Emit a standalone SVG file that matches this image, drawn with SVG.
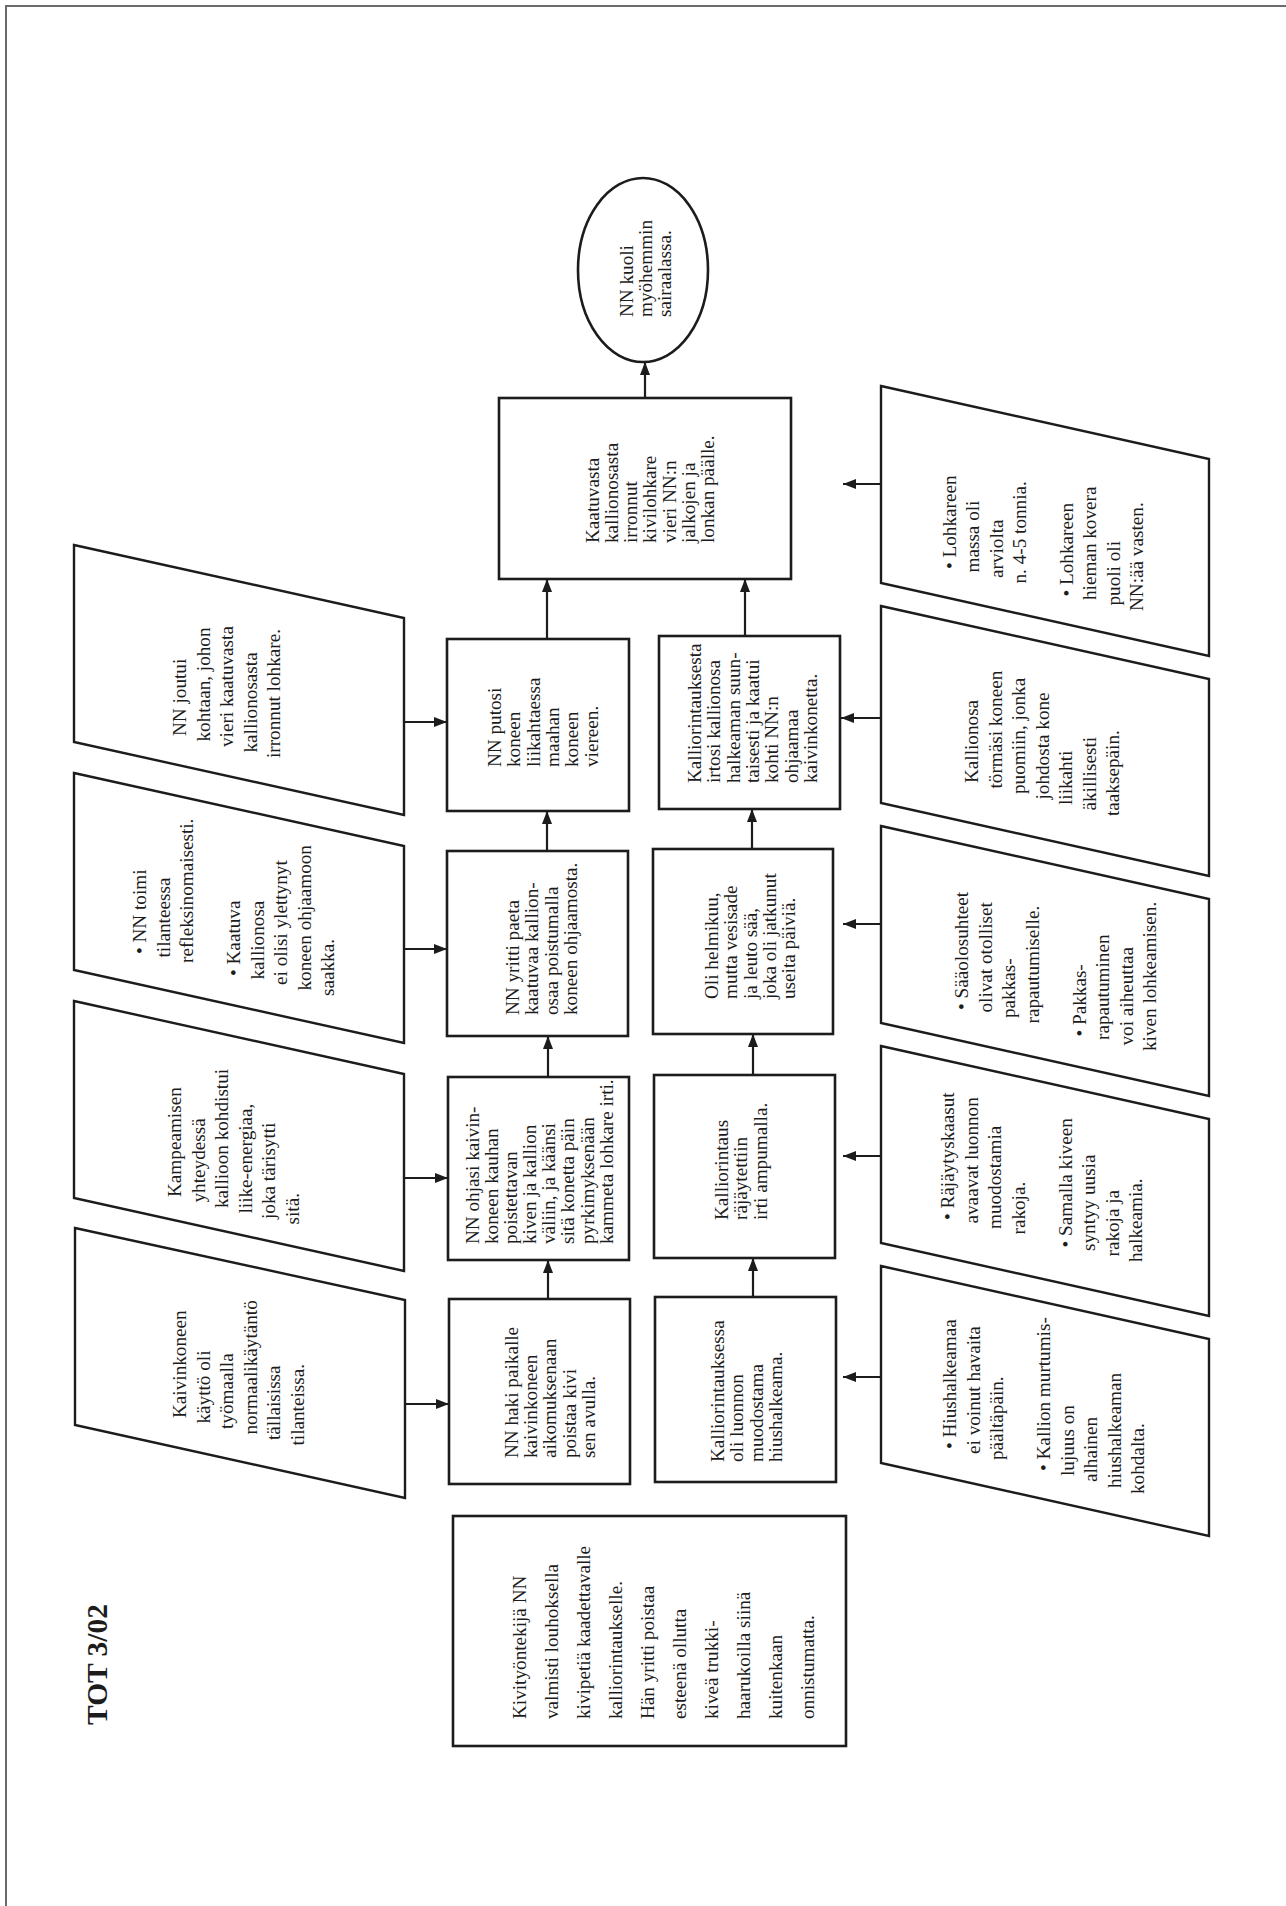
<svg xmlns="http://www.w3.org/2000/svg" width="1286" height="1906" viewBox="0 0 1286 1906">
<style>
.frame{fill:none;stroke:#6b6b6b;stroke-width:2}
.box{fill:#fff;stroke:#1c1c1c;stroke-width:2.6}
.para{fill:#fff;stroke:#1c1c1c;stroke-width:2.4}
.t{font-family:"Liberation Serif","Times New Roman",serif;font-size:19.2px;fill:#1c1c1c}
.title{font-family:"Liberation Serif","Times New Roman",serif;font-size:29.5px;font-weight:bold;fill:#1c1c1c}
.conn line{stroke:#1c1c1c;stroke-width:2.2}
</style>
<defs>
<marker id="ah" viewBox="0 0 13 10" refX="13" refY="5" markerWidth="13" markerHeight="10" markerUnits="userSpaceOnUse" orient="auto">
<path d="M0,0 L13,5 L0,10 z" fill="#1c1c1c"/>
</marker>
</defs>
<rect width="1286" height="1906" fill="#fff"/>
<path class="frame" d="M6,1906 V6 H1286"/>

<g id="title"><text class="title" transform="rotate(-90)"><tspan x="-1725" y="107">TOT 3/02</tspan></text></g>

<g id="conns" class="conn">
<line x1="548" y1="1299" x2="548" y2="1260" marker-end="url(#ah)"/>
<line x1="548" y1="1077" x2="548" y2="1036" marker-end="url(#ah)"/>
<line x1="547" y1="851" x2="547" y2="811" marker-end="url(#ah)"/>
<line x1="547" y1="639" x2="547" y2="579" marker-end="url(#ah)"/>
<line x1="753" y1="1297" x2="753" y2="1258" marker-end="url(#ah)"/>
<line x1="753" y1="1075" x2="753" y2="1034" marker-end="url(#ah)"/>
<line x1="752" y1="849" x2="752" y2="809" marker-end="url(#ah)"/>
<line x1="745" y1="636" x2="745" y2="579" marker-end="url(#ah)"/>
<line x1="645" y1="398" x2="645" y2="362" marker-end="url(#ah)"/>
<line x1="404" y1="722" x2="447" y2="722" marker-end="url(#ah)"/>
<line x1="404" y1="949" x2="447" y2="949" marker-end="url(#ah)"/>
<line x1="404" y1="1178" x2="448" y2="1178" marker-end="url(#ah)"/>
<line x1="405" y1="1404" x2="449" y2="1404" marker-end="url(#ah)"/>
<line x1="881" y1="484" x2="843" y2="484" marker-end="url(#ah)"/>
<line x1="881" y1="718" x2="841" y2="718" marker-end="url(#ah)"/>
<line x1="881" y1="924" x2="843" y2="924" marker-end="url(#ah)"/>
<line x1="881" y1="1156" x2="843" y2="1156" marker-end="url(#ah)"/>
<line x1="881" y1="1377" x2="843" y2="1377" marker-end="url(#ah)"/>
</g>

<g id="n-kuoli">
<ellipse class="box" cx="643" cy="270" rx="65" ry="92"/>
<text class="t" transform="rotate(-90)"><tspan x="-317" y="633">NN kuoli</tspan><tspan x="-317" y="652">myöhemmin</tspan><tspan x="-317" y="671">sairaalassa.</tspan></text>
</g>

<g id="n-kaatuvasta">
<rect class="box" x="499" y="398" width="292" height="181"/>
<text class="t" transform="rotate(-90)"><tspan x="-543" y="599">Kaatuvasta</tspan><tspan x="-543" y="618">kallionosasta</tspan><tspan x="-543" y="637">irronnut</tspan><tspan x="-543" y="656">kivilohkare</tspan><tspan x="-543" y="676">vieri NN:n</tspan><tspan x="-543" y="695">jalkojen ja</tspan><tspan x="-543" y="714">lonkan päälle.</tspan></text>
</g>

<g id="n-putosi">
<rect class="box" x="447" y="639" width="182" height="172"/>
<text class="t" transform="rotate(-90)"><tspan x="-767" y="501">NN putosi</tspan><tspan x="-767" y="520">koneen</tspan><tspan x="-767" y="540">liikahtaessa</tspan><tspan x="-767" y="559">maahan</tspan><tspan x="-767" y="578">koneen</tspan><tspan x="-767" y="598">viereen.</tspan></text>
</g>

<g id="n-yritti">
<rect class="box" x="447" y="851" width="181" height="185"/>
<text class="t" transform="rotate(-90)"><tspan x="-1015" y="519">NN yritti paeta</tspan><tspan x="-1015" y="538">kaatuvaa kallion-</tspan><tspan x="-1015" y="558">osaa poistumalla</tspan><tspan x="-1015" y="577">koneen ohjaamosta.</tspan></text>
</g>

<g id="n-ohjasi">
<rect class="box" x="448" y="1077" width="181" height="183"/>
<text class="t" transform="rotate(-90)"><tspan x="-1244" y="479">NN ohjasi kaivin-</tspan><tspan x="-1244" y="498">koneen kauhan</tspan><tspan x="-1244" y="517">poistettavan</tspan><tspan x="-1244" y="536">kiven ja kallion</tspan><tspan x="-1244" y="555">väliin, ja käänsi</tspan><tspan x="-1244" y="574">sitä konetta päin</tspan><tspan x="-1244" y="594">pyrkimyksenään</tspan><tspan x="-1244" y="613">kammeta lohkare irti.</tspan></text>
</g>

<g id="n-haki">
<rect class="box" x="449" y="1299" width="181" height="185"/>
<text class="t" transform="rotate(-90)"><tspan x="-1458" y="518">NN haki paikalle</tspan><tspan x="-1458" y="537">kaivinkoneen</tspan><tspan x="-1458" y="556">aikomuksenaan</tspan><tspan x="-1458" y="576">poistaa kivi</tspan><tspan x="-1458" y="595">sen avulla.</tspan></text>
</g>

<g id="n-irtosi">
<rect class="box" x="659" y="636" width="181" height="173"/>
<text class="t" transform="rotate(-90)"><tspan x="-783" y="701">Kalliorintauksesta</tspan><tspan x="-783" y="720">irtosi kallionosa</tspan><tspan x="-783" y="740">halkeaman suun-</tspan><tspan x="-783" y="759">taisesti ja kaatui</tspan><tspan x="-783" y="778">kohti NN:n</tspan><tspan x="-783" y="798">ohjaamaa</tspan><tspan x="-783" y="817">kaivinkonetta.</tspan></text>
</g>

<g id="n-helmikuu">
<rect class="box" x="653" y="849" width="180" height="185"/>
<text class="t" transform="rotate(-90)"><tspan x="-999" y="718">Oli helmikuu,</tspan><tspan x="-999" y="737">mutta vesisade</tspan><tspan x="-999" y="757">ja leuto sää,</tspan><tspan x="-999" y="776">joka oli jatkunut</tspan><tspan x="-999" y="795">useita päiviä.</tspan></text>
</g>

<g id="n-rajaytettiin">
<rect class="box" x="654" y="1075" width="181" height="183"/>
<text class="t" transform="rotate(-90)"><tspan x="-1220" y="728">Kalliorintaus</tspan><tspan x="-1220" y="747">räjäytettiin</tspan><tspan x="-1220" y="767">irti ampumalla.</tspan></text>
</g>

<g id="n-hiushalkeama">
<rect class="box" x="655" y="1297" width="181" height="185"/>
<text class="t" transform="rotate(-90)"><tspan x="-1462" y="724">Kalliorintauksessa</tspan><tspan x="-1462" y="743">oli luonnon</tspan><tspan x="-1462" y="763">muodostama</tspan><tspan x="-1462" y="782">hiushalkeama.</tspan></text>
</g>

<g id="n-tausta">
<rect class="box" x="453" y="1516" width="393" height="230"/>
<text class="t" transform="rotate(-90)"><tspan x="-1719" y="526">Kivityöntekijä NN</tspan><tspan x="-1719" y="558">valmisti louhoksella</tspan><tspan x="-1719" y="590">kivipetiä kaadettavalle</tspan><tspan x="-1719" y="622">kalliorintaukselle.</tspan><tspan x="-1719" y="654">Hän yritti poistaa</tspan><tspan x="-1719" y="686">esteenä ollutta</tspan><tspan x="-1719" y="718">kiveä trukki-</tspan><tspan x="-1719" y="750">haarukoilla siinä</tspan><tspan x="-1719" y="782">kuitenkaan</tspan><tspan x="-1719" y="814">onnistumatta.</tspan></text>
</g>

<g id="p-joutui">
<polygon class="para" points="74,545 404,618 404,815 74,742"/>
<text class="t" transform="rotate(-90)"><tspan x="-736" y="186">NN joutui</tspan><tspan x="-741.5" y="210">kohtaan, johon</tspan><tspan x="-747" y="233">vieri kaatuvasta</tspan><tspan x="-752.5" y="257">kallionosasta</tspan><tspan x="-758" y="280">irronnut lohkare.</tspan></text>
</g>

<g id="p-toimi">
<polygon class="para" points="74,773 404,846 404,1043 74,970"/>
<text class="t" transform="rotate(-90)"><tspan x="-954" y="146">• NN toimi</tspan><tspan x="-957.5" y="169.5">tilanteessa</tspan><tspan x="-963" y="193">refleksinomaisesti.</tspan><tspan x="-976" y="240">• Kaatuva</tspan><tspan x="-979.5" y="263.5">kallionosa</tspan><tspan x="-985" y="287">ei olisi ylettynyt</tspan><tspan x="-990.5" y="310.5">koneen ohjaamoon</tspan><tspan x="-996" y="334">saakka.</tspan></text>
</g>

<g id="p-kampeaminen">
<polygon class="para" points="74,1001 404,1074 404,1271 74,1198"/>
<text class="t" transform="rotate(-90)"><tspan x="-1197" y="181">Kampeamisen</tspan><tspan x="-1202.5" y="204.5">yhteydessä</tspan><tspan x="-1208" y="228">kallioon kohdistui</tspan><tspan x="-1213.5" y="251.5">liike-energiaa,</tspan><tspan x="-1219" y="275">joka tärisytti</tspan><tspan x="-1224.5" y="298.5">sitä.</tspan></text>
</g>

<g id="p-kaytanto">
<polygon class="para" points="75,1228 405,1300 405,1498 75,1425"/>
<text class="t" transform="rotate(-90)"><tspan x="-1418" y="186">Kaivinkoneen</tspan><tspan x="-1423.5" y="209.5">käyttö oli</tspan><tspan x="-1429" y="233">työmaalla</tspan><tspan x="-1434.5" y="256.5">normaalikäytäntö</tspan><tspan x="-1440" y="280">tällaisissa</tspan><tspan x="-1445.5" y="303.5">tilanteissa.</tspan></text>
</g>

<g id="p-lohkare">
<polygon class="para" points="881,386 1209,459 1209,656 881,583"/>
<text class="t" transform="rotate(-90)"><tspan x="-569" y="956">• Lohkareen</tspan><tspan x="-572.5" y="979.4">massa oli</tspan><tspan x="-578" y="1002.8">arviolta</tspan><tspan x="-583.5" y="1026.2">n. 4-5 tonnia.</tspan><tspan x="-596.5" y="1073">• Lohkareen</tspan><tspan x="-600" y="1096.4">hieman kovera</tspan><tspan x="-605.5" y="1119.8">puoli oli</tspan><tspan x="-611" y="1143.2">NN:ää vasten.</tspan></text>
</g>

<g id="p-puomi">
<polygon class="para" points="881,606 1209,679 1209,876 881,803"/>
<text class="t" transform="rotate(-90)"><tspan x="-783" y="978">Kallionosa</tspan><tspan x="-788.5" y="1001.5">törmäsi koneen</tspan><tspan x="-794" y="1025">puomiin, jonka</tspan><tspan x="-799.5" y="1048.5">johdosta kone</tspan><tspan x="-805" y="1072">liikahti</tspan><tspan x="-810.5" y="1095.5">äkillisesti</tspan><tspan x="-816" y="1119">taaksepäin.</tspan></text>
</g>

<g id="p-saa">
<polygon class="para" points="881,826 1209,899 1209,1096 881,1023"/>
<text class="t" transform="rotate(-90)"><tspan x="-1010" y="968">• Sääolosuhteet</tspan><tspan x="-1012.5" y="991.5">olivat otolliset</tspan><tspan x="-1018" y="1015">pakkas-</tspan><tspan x="-1023.5" y="1038.5">rapautumiselle.</tspan><tspan x="-1036.5" y="1085.5">• Pakkas-</tspan><tspan x="-1040" y="1109">rapautuminen</tspan><tspan x="-1045.5" y="1132.5">voi aiheuttaa</tspan><tspan x="-1051" y="1156">kiven lohkeamisen.</tspan></text>
</g>

<g id="p-kaasut">
<polygon class="para" points="881,1046 1209,1119 1209,1316 881,1243"/>
<text class="t" transform="rotate(-90)"><tspan x="-1220" y="954">• Räjäytyskaasut</tspan><tspan x="-1223.5" y="977.5">avaavat luonnon</tspan><tspan x="-1229" y="1001">muodostamia</tspan><tspan x="-1234.5" y="1024.5">rakoja.</tspan><tspan x="-1247.5" y="1071.5">• Samalla kiveen</tspan><tspan x="-1251" y="1095">syntyy uusia</tspan><tspan x="-1256.5" y="1118.5">rakoja ja</tspan><tspan x="-1262" y="1142">halkeamia.</tspan></text>
</g>

<g id="p-murtumis">
<polygon class="para" points="881,1266 1209,1339 1209,1536 881,1463"/>
<text class="t" transform="rotate(-90)"><tspan x="-1449" y="956">• Hiushalkeamaa</tspan><tspan x="-1454" y="979.5">ei voinut havaita</tspan><tspan x="-1460" y="1003">päältäpäin.</tspan><tspan x="-1471" y="1050">• Kallion murtumis-</tspan><tspan x="-1476" y="1073.5">lujuus on</tspan><tspan x="-1482" y="1097">alhainen</tspan><tspan x="-1488" y="1120.5">hiushalkeaman</tspan><tspan x="-1494" y="1144">kohdalta.</tspan></text>
</g>
</svg>
